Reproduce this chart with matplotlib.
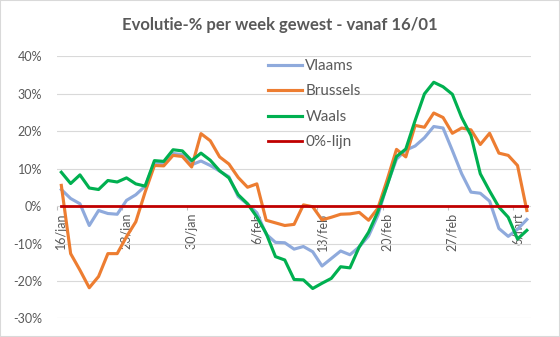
import numpy as np
import matplotlib
matplotlib.use("Agg")
import matplotlib.pyplot as plt
from matplotlib.ticker import FuncFormatter, FixedLocator
from matplotlib.patches import Rectangle

# evolutie-% per week, dagelijks van 16/jan t.e.m. 7/mrt
vlaams = [4.4, 2.0, 0.6, -5.2, -1.2, -2.0, -2.2, 1.5, 3.0, 5.3,
          11.5, 11.3, 14.0, 13.7, 11.0, 12.0, 10.8, 9.3, 7.8, 2.5,
          0.5, -1.8, -7.5, -9.7, -9.8, -11.5, -10.8, -12.2, -16.0, -14.0,
          -12.0, -13.0, -10.9, -8.0, -2.5, 5.7, 12.5, 14.9, 16.0, 18.2,
          21.2, 20.8, 14.8, 8.6, 3.7, 3.4, 1.3, -6.0, -8.1, -6.2,
          -3.6]
brussels = [5.5, -12.7, -17.1, -21.8, -18.8, -12.7, -12.7, -8.2, -4.2, 3.7,
            10.8, 10.7, 13.5, 13.2, 10.4, 19.3, 17.4, 13.1, 11.2, 7.6,
            5.0, 5.9, -3.8, -4.5, -5.2, -4.9, 0.3, -0.2, -3.7, -3.0,
            -2.2, -2.1, -1.7, -3.8, -0.6, 7.0, 15.1, 13.1, 21.5, 21.0,
            24.8, 23.6, 19.4, 20.8, 20.3, 16.4, 19.4, 14.1, 13.5, 10.8,
            -1.2]
waals = [9.0, 6.0, 8.3, 4.8, 4.4, 6.8, 6.4, 7.5, 5.9, 5.3,
         12.1, 11.9, 15.0, 14.7, 12.1, 14.1, 12.2, 9.4, 7.5, 3.0,
         0.6, -2.9, -7.3, -13.5, -14.4, -19.6, -19.7, -22.0, -20.6, -19.3,
         -16.2, -16.5, -10.9, -7.0, -1.5, 5.5, 13.2, 15.2, 22.8, 29.9,
         33.0, 31.8, 29.8, 23.6, 18.8, 8.6, 4.0, -0.3, -3.0, -8.8,
         -6.5]
nul_lijn = [0.0] * len(vlaams)

week_labels = ["16/jan", "23/jan", "30/jan", "6/feb", "13/feb", "20/feb", "27/feb", "6/mrt"]
y_ticks = [-30, -20, -10, 0, 10, 20, 30, 40]

GREY = "#595959"
plt.rcParams["font.family"] = ["Lato", "DejaVu Sans"]

fig = plt.figure(figsize=(5.6, 3.37), dpi=100)
ax = fig.add_axes([0.1012, 0.0549, 0.8479, 0.7789])

x = np.arange(len(vlaams))
ax.plot(x, vlaams, color="#8FAADC", lw=2.25, label="Vlaams", solid_joinstyle="round")
ax.plot(x, brussels, color="#ED7D31", lw=2.25, label="Brussels", solid_joinstyle="round")
ax.plot(x, waals, color="#00B050", lw=2.25, label="Waals", solid_joinstyle="round")
ax.plot(x, nul_lijn, color="#C00000", lw=2.0, label="0%-lijn")

ax.set_xlim(-0.5, len(vlaams) - 0.5)
ax.set_ylim(y_ticks[0], y_ticks[-1])

# category axis sits on the 0% line, labels centred on the dates
for s in ("top", "right", "left"):
    ax.spines[s].set_visible(False)
ax.spines["bottom"].set_position(("data", 0))
ax.spines["bottom"].set_visible(False)

major = [i * 7 for i in range(len(week_labels))]
ax.xaxis.set_major_locator(FixedLocator(major))
ax.set_xticklabels(week_labels, rotation=90, va="top", ha="center")
ax.xaxis.set_minor_locator(FixedLocator([m - 0.5 for m in major]))
ax.tick_params(axis="x", which="major", length=0, pad=5, labelsize=9, labelcolor=GREY)
ax.tick_params(axis="x", which="minor", length=3, width=0.8, color="#BFBFBF")

ax.set_yticks(y_ticks)
ax.yaxis.set_major_formatter(FuncFormatter(lambda v, _: "%d%%" % v))
ax.tick_params(axis="y", length=0, pad=10.5, labelsize=9, labelcolor=GREY)
ax.grid(axis="y", color="#D9D9D9", lw=0.8)
ax.set_axisbelow(True)

fig.text(0.5, 0.926, "Evolutie-% per week gewest - vanaf 16/01", ha="center", va="center",
         fontsize=12, fontweight="bold", color=GREY)

leg = ax.legend(loc="upper left", bbox_to_anchor=(268 / 560, 1 - 59 / 337),
                bbox_transform=fig.transFigure, frameon=False, fontsize=11,
                handlelength=2.2, handletextpad=0.25, labelspacing=0.75,
                borderpad=0, borderaxespad=0)
for t in leg.get_texts():
    t.set_color(GREY)

fig.patches.append(Rectangle((0, 0), 1, 1, transform=fig.transFigure, fill=False,
                             edgecolor="#D9D9D9", lw=1.5))

fig.savefig("out.png", dpi=100)
